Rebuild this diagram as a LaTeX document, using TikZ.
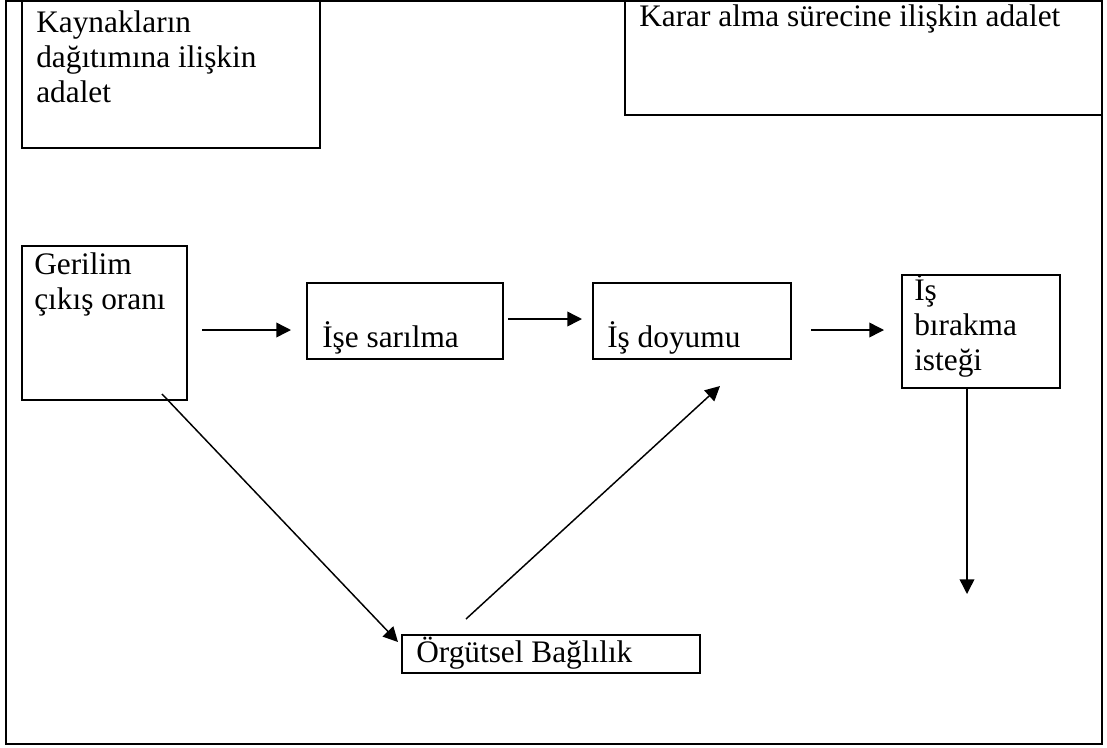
\documentclass[tikz,border=0pt]{standalone}
\usepackage{fontspec}
\setmainfont{Liberation Serif}
\usetikzlibrary{arrows.meta,calc}
\begin{document}
\begin{tikzpicture}[x=0.75pt,y=0.75pt,
  box/.style={draw, line width=1.5pt, inner sep=0pt},
  txt/.style={inner sep=0pt, anchor=base west, font=\fontsize{23.5pt}{26.5pt}\selectfont},
  arr/.style={line width=1.1pt, -{Triangle[length=11pt,width=11pt]}}]
\useasboundingbox (0,0) rectangle (1107,-747);
\draw[line width=1.5pt] (6,-1) rectangle (1102,-744);
% boxes
\node[box, minimum width=223.5pt, minimum height=110.25pt] (kay) at (171,-74.5) {};
\node[box, minimum width=357.75pt, minimum height=85.5pt] (kar) at (863.5,-58) {};
\node[box, minimum width=123.75pt, minimum height=115.5pt] (ger) at (104.5,-323) {};
\node[box, minimum width=147pt, minimum height=57pt] (ise) at (405,-321) {};
\node[box, minimum width=148.5pt, minimum height=57pt] (doy) at (692,-321) {};
\node[box, minimum width=118.5pt, minimum height=84.75pt] (bir) at (981,-331.5) {};
\node[box, minimum width=223.5pt, minimum height=28.5pt] (org) at (551,-654) {};
% texts
\node[txt] (kayt) at ($(kay.north west)+(15,-32)$) {\vtop{\hbox{Kaynakların}\hbox{dağıtımına ilişkin}\hbox{adalet}}};
\node[txt] (kart) at ($(kar.north west)+(15,-26)$) {Karar alma sürecine ilişkin adalet};
\node[txt] (gert) at ($(ger.north west)+(13,-29)$) {\vtop{\hbox{Gerilim}\hbox{çıkış oranı}}};
\node[txt] (iset) at ($(ise.north west)+(16,-65)$) {İşe sarılma};
\node[txt] (doyt) at ($(doy.north west)+(15,-65)$) {İş doyumu};
\node[txt] (birt) at ($(bir.north west)+(13,-26)$) {\vtop{\hbox{İş}\hbox{bırakma}\hbox{isteği}}};
\node[txt] (orgt) at ($(org.north west)+(15,-28)$) {Örgütsel Bağlılık};
% connectors
\coordinate (birend) at (967,-594);
\draw[arr] ($(ger.center)+(97.5,-7)$) -- ($(ise.west)+(-15,-9)$);
\draw[arr] ($(ise.east)+(4,2)$) -- ($(doy.west)+(-10,2)$);
\draw[arr] ($(doy.east)+(19,-9)$) -- ($(bir.west)+(-17,1.5)$);
\draw[arr] ($(ger.south)+(57.5,7)$) -- ($(org.north west)+(-3,-8)$);
\draw[arr] ($(org.north west)+(65,15)$) -- ($(doy.south)+(28,-26)$);
\draw[arr] ($(bir.south)+(-14,0)$) -- (birend);
\end{tikzpicture}
\end{document}
